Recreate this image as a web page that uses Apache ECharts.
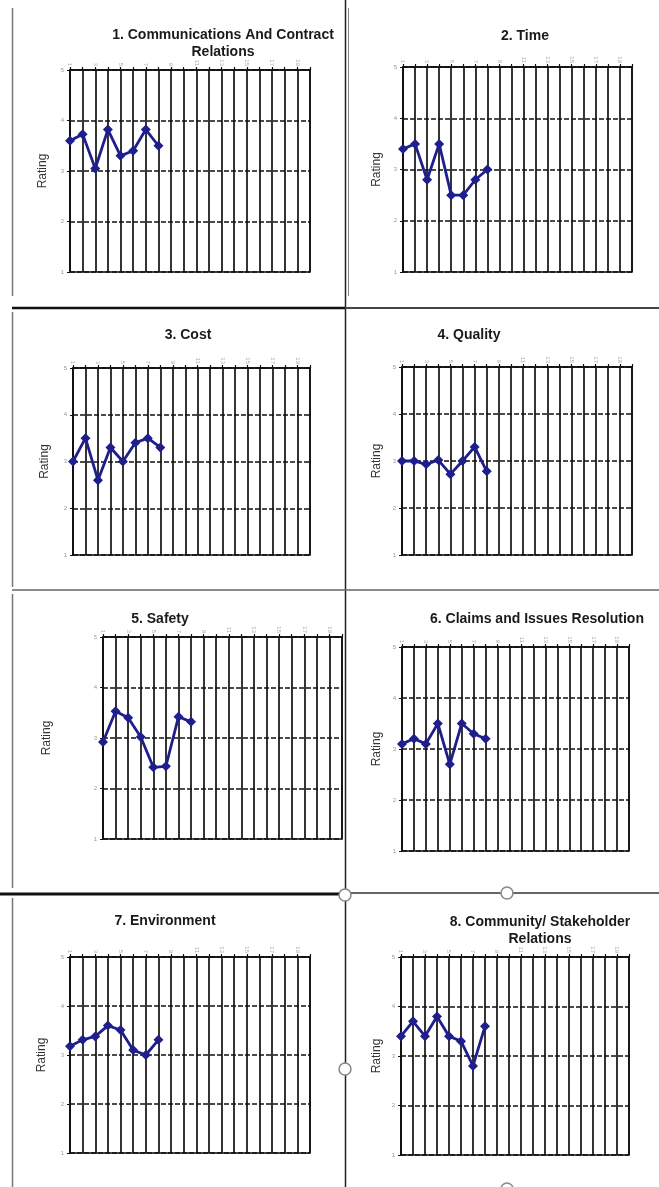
<!DOCTYPE html>
<html>
<head>
<meta charset="utf-8">
<script src="https://cdn.jsdelivr.net/npm/echarts@6/dist/echarts.min.js"></script>
<style>
html,body{margin:0;padding:0;background:#fff;}
#chart{width:659px;height:1187px;}
</style>
</head>
<body>
<div id="chart"></div>
<script>
// ---- data ----
const categories = ['1','2','3','4','5','6','7','8','9','10','11','12','13','14','15','16','17','18','19','20'];
const yTicks = [1, 2, 3, 4, 5];
const titles = [
  '1. Communications And Contract\nRelations',
  '2. Time',
  '3. Cost',
  '4. Quality',
  '5. Safety',
  '6. Claims and Issues Resolution',
  '7. Environment',
  '8. Community/ Stakeholder\nRelations'
];
const communications = [3.6, 3.73, 3.05, 3.82, 3.3, 3.4, 3.82, 3.5];
const time = [3.4, 3.5, 2.8, 3.5, 2.5, 2.5, 2.8, 3.0];
const cost = [3.0, 3.5, 2.6, 3.3, 3.0, 3.4, 3.5, 3.3];
const quality = [3.0, 3.0, 2.93, 3.02, 2.72, 3.0, 3.3, 2.78];
const safety = [2.92, 3.53, 3.4, 3.02, 2.42, 2.44, 3.42, 3.32];
const claims = [3.1, 3.2, 3.1, 3.5, 2.7, 3.5, 3.3, 3.2];
const environment = [3.18, 3.31, 3.38, 3.6, 3.51, 3.1, 3.0, 3.31];
const community = [3.4, 3.7, 3.4, 3.8, 3.4, 3.3, 2.8, 3.6];
const seriesData = [communications, time, cost, quality, safety, claims, environment, community];

// ---- layout ----
const grids = [
  {left: 70, top: 70, width: 240, height: 202},
  {left: 403, top: 67, width: 229, height: 205},
  {left: 73, top: 368, width: 237, height: 187},
  {left: 402, top: 367, width: 230, height: 188},
  {left: 103, top: 637, width: 239, height: 202},
  {left: 402, top: 647, width: 227, height: 204},
  {left: 70, top: 957, width: 240, height: 196},
  {left: 401, top: 957, width: 228, height: 198}
];
const nameGaps = [21, 20, 22, 19, 50, 19, 22, 18];
const titlePos = [
  {left: 218, top: 22, align: 'center'},
  {left: 520, top: 23, align: 'center'},
  {left: 183, top: 322, align: 'center'},
  {left: 464, top: 322, align: 'center'},
  {left: 155, top: 606, align: 'center'},
  {left: 425, top: 606, align: 'left'},
  {left: 160, top: 908, align: 'center'},
  {left: 535, top: 909, align: 'center'}
];

const chart = echarts.init(document.getElementById('chart'), null, {renderer: 'canvas'});

const option = {
  backgroundColor: '#ffffff',
  animation: false,
  title: titles.map((t, i) => ({
    text: t,
    left: titlePos[i].left,
    top: titlePos[i].top,
    textAlign: titlePos[i].align,
    textStyle: {fontFamily: 'Liberation Sans, Arial, sans-serif', fontSize: 14, fontWeight: 'bold', color: '#1a1a1a', lineHeight: 17, align: 'center'}
  })),
  grid: grids.map(g => Object.assign({show: true, borderColor: '#111', borderWidth: 1.5, backgroundColor: 'transparent'}, g)),
  xAxis: grids.map((g, i) => ({
    type: 'category',
    gridIndex: i,
    position: 'top',
    boundaryGap: false,
    data: categories,
    axisLine: {show: true, lineStyle: {color: '#111', width: 1.5}},
    axisTick: {show: true, interval: 0, length: 3, inside: false, lineStyle: {color: '#111', width: 1.2}},
    axisLabel: {interval: 1, rotate: 90, fontSize: 6, color: '#aaa', margin: 4, fontFamily: 'Liberation Sans, Arial, sans-serif'},
    splitLine: {show: true, interval: 0, lineStyle: {color: '#111', width: 1.7, type: 'solid'}}
  })),
  yAxis: grids.map((g, i) => ({
    type: 'value',
    gridIndex: i,
    min: yTicks[0],
    max: yTicks[yTicks.length - 1],
    interval: 1,
    name: 'Rating',
    nameLocation: 'middle',
    nameGap: nameGaps[i],
    nameTextStyle: {fontFamily: 'Liberation Sans, Arial, sans-serif', fontSize: 12, color: '#333'},
    axisLine: {show: true, lineStyle: {color: '#111', width: 1.5}},
    axisTick: {show: true, length: 3, lineStyle: {color: '#111'}},
    axisLabel: {fontSize: 6, color: '#999', margin: 6, fontFamily: 'Liberation Sans, Arial, sans-serif'},
    splitLine: {show: true, lineStyle: {color: '#111', width: 1.5, type: [5, 2]}}
  })),
  series: seriesData.map((d, i) => ({
    type: 'line',
    xAxisIndex: i,
    yAxisIndex: i,
    data: d,
    symbol: 'diamond',
    symbolSize: 10,
    showAllSymbol: true,
    itemStyle: {color: '#1e1e8c'},
    lineStyle: {color: '#1e1e8c', width: 2.8}
  })),
  graphic: [
    // page dividers (scanned report frame)
    {type: 'line', shape: {x1: 345.5, y1: 0, x2: 345.5, y2: 1187}, style: {stroke: '#222', lineWidth: 1.5}, z: 10},
    {type: 'line', shape: {x1: 12, y1: 308, x2: 345, y2: 308}, style: {stroke: '#111', lineWidth: 2.5}, z: 10},
    {type: 'line', shape: {x1: 345, y1: 308, x2: 659, y2: 308}, style: {stroke: '#444', lineWidth: 2}, z: 10},
    {type: 'line', shape: {x1: 12, y1: 590, x2: 659, y2: 590}, style: {stroke: '#666', lineWidth: 1.5}, z: 10},
    {type: 'line', shape: {x1: 0, y1: 894, x2: 345, y2: 894}, style: {stroke: '#111', lineWidth: 3}, z: 10},
    {type: 'line', shape: {x1: 345, y1: 893, x2: 659, y2: 893}, style: {stroke: '#333', lineWidth: 1.5}, z: 10},
    {type: 'line', shape: {x1: 12.5, y1: 8, x2: 12.5, y2: 296}, style: {stroke: '#777', lineWidth: 1.5}, z: 10},
    {type: 'line', shape: {x1: 12.5, y1: 312, x2: 12.5, y2: 587}, style: {stroke: '#777', lineWidth: 1.5}, z: 10},
    {type: 'line', shape: {x1: 12.5, y1: 594, x2: 12.5, y2: 888}, style: {stroke: '#777', lineWidth: 1.5}, z: 10},
    {type: 'line', shape: {x1: 12.5, y1: 898, x2: 12.5, y2: 1187}, style: {stroke: '#777', lineWidth: 1.5}, z: 10},
    {type: 'line', shape: {x1: 348.5, y1: 8, x2: 348.5, y2: 296}, style: {stroke: '#888', lineWidth: 1}, z: 10},
    // selection handles
    {type: 'circle', shape: {cx: 345, cy: 895, r: 6}, style: {fill: '#fff', stroke: '#888', lineWidth: 1.5}, z: 11},
    {type: 'circle', shape: {cx: 507, cy: 893, r: 6}, style: {fill: '#fff', stroke: '#888', lineWidth: 1.5}, z: 11},
    {type: 'circle', shape: {cx: 345, cy: 1069, r: 6}, style: {fill: '#fff', stroke: '#888', lineWidth: 1.5}, z: 11},
    {type: 'circle', shape: {cx: 507, cy: 1189, r: 6}, style: {fill: '#fff', stroke: '#888', lineWidth: 1.5}, z: 11}
  ]
};
chart.setOption(option);
</script>
</body>
</html>
